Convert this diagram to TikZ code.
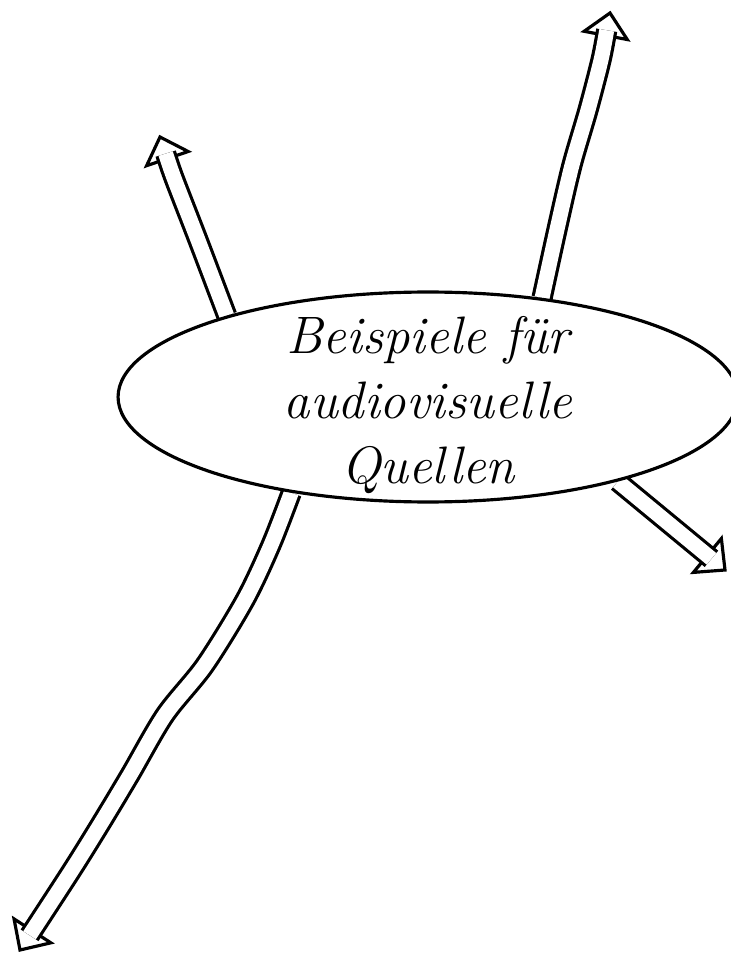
\documentclass[tikz,border=0pt]{standalone}
\usepackage{tikz}
\usetikzlibrary{
    positioning,
    arrows.meta,
    shapes.geometric,
    backgrounds,
    calc
}

\begin{document}
\begin{tikzpicture}[
    x=0.02cm, y=-0.02cm,
    topic/.style={
        ellipse,
        draw,
        line width=1.8pt,
        fill=white,
        align=center,
        minimum width=12.4cm,
        minimum height=4.2cm,
        inner xsep=0pt,
        inner ysep=-15pt,
        font=\fontsize{30}{37}\selectfont\itshape
    },
    shaft/.style={line width=1.8pt, double, double distance=8.5pt, line join=round},
    head/.style={line width=1.8pt, fill=white, line join=miter}
]
\useasboundingbox (0,0) rectangle (730,955);

\node[topic] (quellen) at (428,397) {\rule{0pt}{30pt}Beispiele für\\audiovisuelle\\Quellen};

% arrow ends
\coordinate (nw-tip) at (160,137);
\coordinate (nw-pre) at (174,178);
\coordinate (ne-tip) at (610,13);
\coordinate (ne-pre) at (601,60);
\coordinate (se-tip) at (725,570);
\coordinate (se-pre) at (quellen.-24);
\coordinate (sw-tip) at (20,950);
\coordinate (sw-pre) at (72,870);

\begin{scope}[on background layer]
\foreach \a in {nw,ne,se,sw} {
    \coordinate (\a-base) at ($(\a-tip)!13pt!(\a-pre)$);
    \coordinate (\a-end) at ($(\a-tip)!10pt!(\a-pre)$);
    \draw[head] (\a-tip) -- ($(\a-base)!12.5pt!90:(\a-tip)$)
        -- ($(\a-base)!12.5pt!-90:(\a-tip)$) -- cycle;
}
\draw[shaft] plot[smooth] coordinates {(quellen.158) (198,240) (nw-pre) (nw-end)};
\draw[shaft] plot[smooth] coordinates {(quellen.41) (558,225) (572,165) (588,110) (ne-pre) (ne-end)};
\draw[shaft] (se-pre) -- (se-end);
\draw[shaft] plot[smooth] coordinates {(quellen.-145) (271,545) (245,600) (205,665) (165,715) (130,775) (100,825) (sw-pre) (sw-end)};
\end{scope}

\end{tikzpicture}
\end{document}
